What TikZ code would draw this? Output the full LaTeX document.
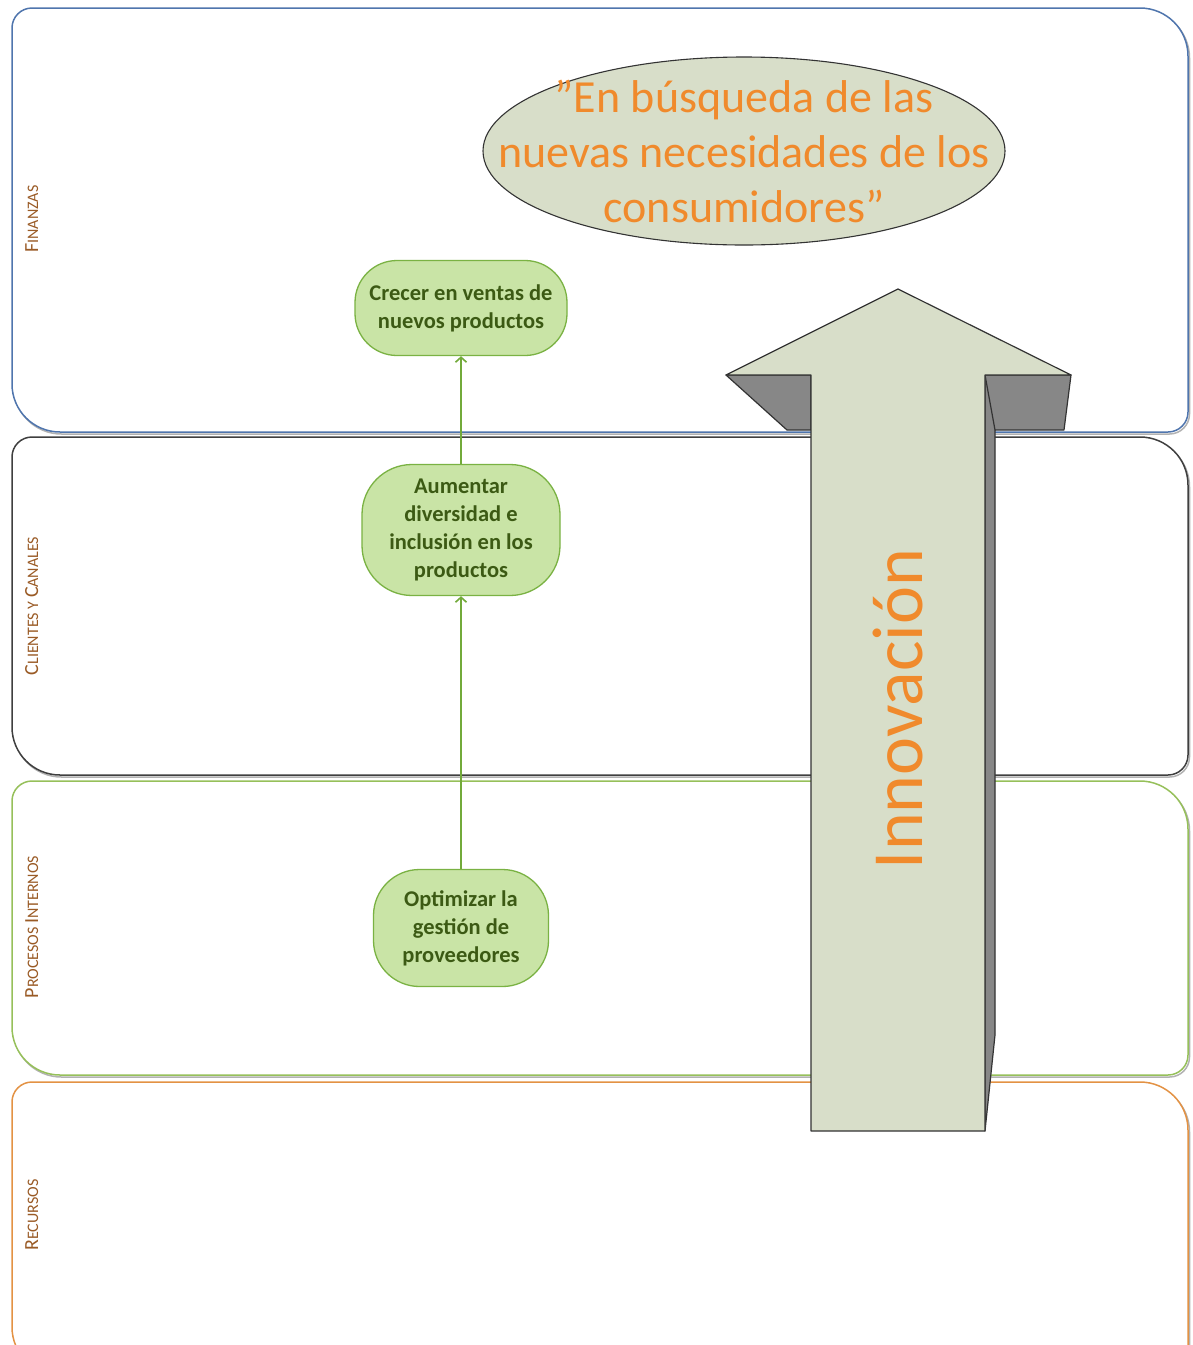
\documentclass[tikz,border=0pt]{standalone}
\usepackage{fontspec}
\setmainfont{Carlito}
\usetikzlibrary{shapes.geometric,arrows.meta}

\definecolor{laneblue}{HTML}{4F75AD}
\definecolor{lanegray}{HTML}{3F3F3F}
\definecolor{lanegreen}{HTML}{96C05A}
\definecolor{laneorange}{HTML}{E39244}
\definecolor{labelbrown}{HTML}{9A5B26}
\definecolor{boxfill}{HTML}{C9E4A6}
\definecolor{boxdraw}{HTML}{7AB243}
\definecolor{boxtext}{HTML}{3C5A14}
\definecolor{connline}{HTML}{72AA3A}
\definecolor{orangetext}{HTML}{F08A2C}
\definecolor{arrowfill}{HTML}{D8DEC9}
\definecolor{wingfill}{HTML}{878787}
\definecolor{outline}{HTML}{333333}

% small caps built from two sizes
\newcommand\scl[2]{{\fontsize{20}{24}\selectfont #1}{\fontsize{16}{19}\selectfont #2}}

\tikzset{
  lane/.style={line width=1.5pt, fill=white},
  laneshadow/.style={line width=1.5pt, draw=black!30},
  lanelabel/.style={rotate=90, anchor=base, text=labelbrown, inner sep=0pt},
  objective/.style={draw=boxdraw, line width=1.3pt, fill=boxfill, text=boxtext,
    font=\bfseries\fontsize{22.5}{28}\selectfont, align=center, inner sep=0pt},
  conn/.style={draw=connline, line width=2pt, -{Straight Barb[length=5pt,width=11pt,line width=1.6pt]}},
  solid3d/.style={draw=outline, line width=1.2pt, line join=round},
}

\begin{document}
\begin{tikzpicture}[x=1pt,y=-1pt]
\useasboundingbox (0,0) rectangle (1193,1345);
\clip (0,0) rectangle (1193,1345);

% perspective lanes
\foreach \ya/\ym/\yb/\col in {8/220/432/laneblue, 437/606/775/lanegray, 781/928/1075/lanegreen, 1082/1230/1375/laneorange}{
  \begin{scope}[shift={(1.5,2)}]
    \draw[laneshadow] (12,\ym) [rounded corners=20pt] -- (12,\ya) -- (600,\ya)
      [rounded corners=48pt] -- (1188,\ya) -- (1188,\ym)
      [rounded corners=20pt] -- (1188,\yb) -- (600,\yb)
      [rounded corners=48pt] -- (12,\yb) -- cycle;
  \end{scope}
  \draw[lane, draw=\col] (12,\ym) [rounded corners=20pt] -- (12,\ya) -- (600,\ya)
    [rounded corners=48pt] -- (1188,\ya) -- (1188,\ym)
    [rounded corners=20pt] -- (1188,\yb) -- (600,\yb)
    [rounded corners=48pt] -- (12,\yb) -- cycle;
}

% lane titles
\node[lanelabel] (finlab) at (38,219) {\scl{F}{INANZAS}};
\node[lanelabel] (clilab) at (38,606) {\scl{C}{LIENTES Y }\scl{C}{ANALES}};
\node[lanelabel] (prolab) at (38,927) {\scl{P}{ROCESOS }\scl{I}{NTERNOS}};
\node[lanelabel] (reclab) at (38,1215) {\scl{R}{ECURSOS}};

% vision ellipse
\node[ellipse, draw=outline, line width=1.1pt, fill=arrowfill, minimum width=522pt,
      minimum height=188pt, inner sep=0pt] (vision) at (744,151) {};
\node[text=orangetext, align=center, inner sep=0pt,
      font=\fontsize{46}{55}\selectfont] (visiontext) at (744,151)
  {”En búsqueda de las\\nuevas necesidades de los\\consumidores”};

% big innovation arrow: shaded wings and side
\draw[solid3d, fill=wingfill] (726,375) -- (811,375) -- (811,430) -- (787,430) -- cycle;
\draw[solid3d, fill=wingfill] (985,375) -- (1071,375) -- (1064,430) -- (995,430)
  -- (995,1035) -- (985,1131) -- cycle;
\draw[solid3d] (985,375) -- (995,430);
% front face
\draw[solid3d, fill=arrowfill] (898,289) -- (1071,375) -- (985,375) -- (985,1131)
  -- (811,1131) -- (811,375) -- (726,375) -- cycle;
\node[rotate=90, anchor=base, text=orangetext, inner sep=0pt,
      font=\fontsize{72}{80}\selectfont] (innov) at (922,709) {Innovación};

% objectives
\node[objective, minimum width=212pt, minimum height=95pt, rounded corners=42pt]
  (crecer) at (461,308) {Crecer en ventas de\\nuevos productos};
\node[objective, minimum width=198pt, minimum height=131pt, rounded corners=50pt]
  (aumentar) at (461,530) {Aumentar\\diversidad e\\inclusión en los\\productos};
\node[objective, minimum width=175pt, minimum height=117pt, rounded corners=46pt]
  (optimizar) at (461,928) {Optimizar la\\gestión de\\proveedores};

% cause-effect links
\draw[conn] (optimizar.north) -- (aumentar.south);
\draw[conn] (aumentar.north) -- (crecer.south);
\end{tikzpicture}
\end{document}
